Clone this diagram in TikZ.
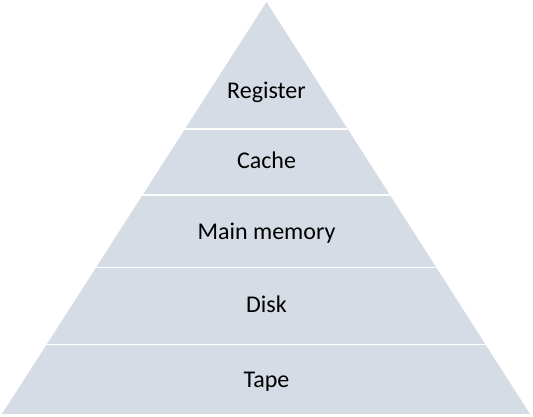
\documentclass[tikz,border=0pt]{standalone}
\usepackage{fontspec}
\setmainfont{Carlito}
\begin{document}
\begin{tikzpicture}[x=1pt,y=-1pt,
  layer/.style={fill=pyramidfill,draw=none},
  divider/.style={draw=white,line width=1.6pt},
  label/.style={anchor=base,inner sep=0pt,text=black,font=\fontsize{24}{28}\selectfont}]
\definecolor{pyramidfill}{HTML}{D6DCE5}
\useasboundingbox (0,0) rectangle (533,416);
% pyramid outline
\coordinate (apex) at (266.5,2);
\coordinate (bl) at (2,414);
\coordinate (br) at (530,414);
\fill[layer] (apex) -- (br) -- (bl) -- cycle;
% white dividers between the levels
\begin{scope}
  \clip (apex) -- (br) -- (bl) -- cycle;
  \foreach \y in {128.7,195.2,267.3,344.3}
    \draw[divider] (0,\y) -- (533,\y);
\end{scope}
% level labels
\node[label] (reg)  at (266.5,98.3)  {Register};
\node[label] (cache) at (266.5,168.7) {Cache};
\node[label] (main) at (266.5,239)   {Main memory};
\node[label] (disk) at (266.5,312.7) {Disk};
\node[label] (tape) at (266.5,387)   {Tape};
\end{tikzpicture}
\end{document}
